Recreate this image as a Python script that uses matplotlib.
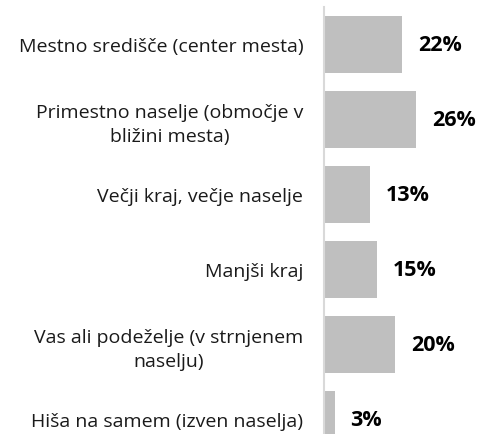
import matplotlib
matplotlib.use("Agg")
import matplotlib.pyplot as plt

categories = [
    "Mestno središče (center mesta)",
    "Primestno naselje (območje v\nbližini mesta)",
    "Večji kraj, večje naselje",
    "Manjši kraj",
    "Vas ali podeželje (v strnjenem\nnaselju)",
    "Hiša na samem (izven naselja)",
]
values = [22, 26, 13, 15, 20, 3]
value_labels = ["22%", "26%", "13%", "15%", "20%", "3%"]

plt.rcParams['font.family'] = ['Open Sans', 'DejaVu Sans']

W, H = 480, 435
fig = plt.figure(figsize=(W / 100, H / 100), dpi=100)
ax_left = 324 / W
ax_top = 1 - 8 / H
ax_h = 450 / H
ax = fig.add_axes([ax_left, ax_top - ax_h, 1 - ax_left, ax_h])

y = list(range(len(categories)))
ax.barh(y, values, height=0.77, color="#BFBFBF", edgecolor="none")
ax.set_ylim(len(categories) - 0.5, -0.5)
ax.set_xlim(0, (W - 324) / 3.55)

for yi, v, lab in zip(y, values, value_labels):
    ax.annotate(lab, (v, yi), xytext=(11.5, 0), textcoords="offset points",
                ha="left", va="center", fontsize=15.5, fontweight="bold",
                color="black")

ax.set_yticks(y)
ax.set_yticklabels(categories, fontsize=14, color="#1a1a1a",
                   multialignment="center", linespacing=1.4)
ax.tick_params(axis="y", length=0, pad=15)
ax.set_xticks([])
for s in ["top", "right", "bottom"]:
    ax.spines[s].set_visible(False)
ax.spines["left"].set_color("#D9D9D9")
ax.spines["left"].set_linewidth(1.5)

fig.savefig("out.png", dpi=100)
